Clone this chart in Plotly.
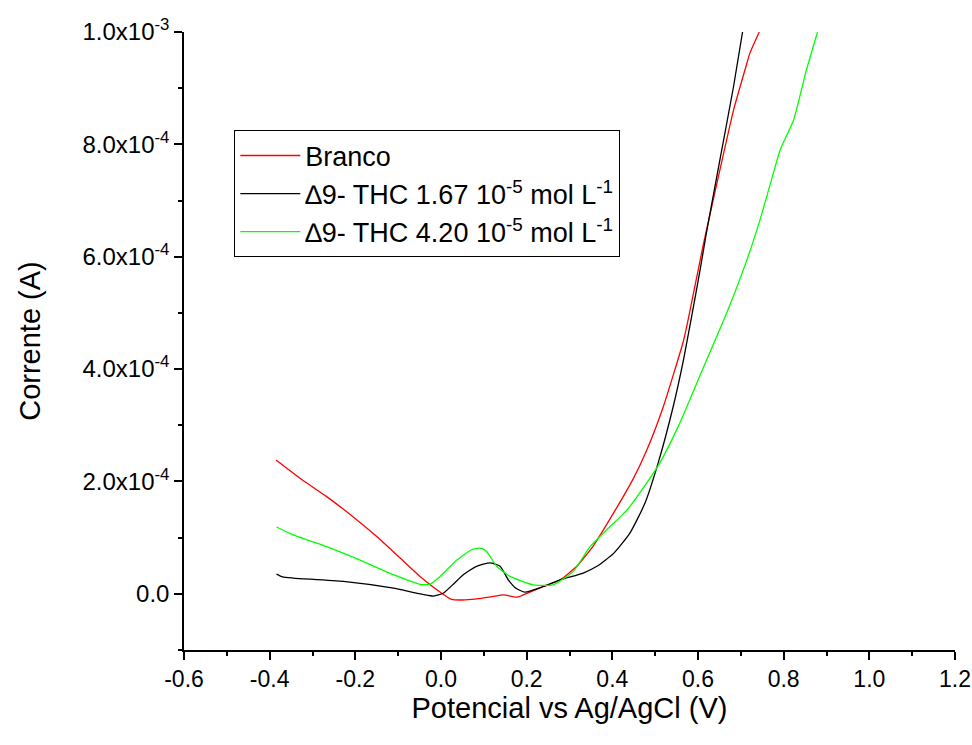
import plotly.graph_objects as go

# Potential (V) and current (in units of 1e-4 A)
branco_x = [-0.385, -0.33, -0.267, -0.21, -0.150, -0.10, -0.049, 0.0, 0.025, 0.05, 0.083,
            0.12, 0.146, 0.177, 0.21, 0.239, 0.278, 0.317, 0.356, 0.403, 0.449,
            0.480, 0.519, 0.566, 0.577, 0.612, 0.651, 0.683, 0.714, 0.721, 0.743]
branco_y = [2.38, 2.06, 1.73, 1.40, 1.02, 0.67, 0.31, 0.02, -0.10, -0.11, -0.09,
            -0.05, -0.02, -0.06, 0.04, 0.13, 0.25, 0.49, 0.86, 1.44, 2.05,
            2.55, 3.33, 4.50, 4.88, 6.20, 7.54, 8.61, 9.44, 9.62, 10.0]

thc1_x = [-0.384, -0.37, -0.345, -0.228, -0.111, -0.018, 0.005, 0.03, 0.052, 0.083,
          0.114, 0.138, 0.157, 0.175, 0.196, 0.239, 0.278, 0.332, 0.364, 0.403, 0.441,
          0.476, 0.507, 0.542, 0.566, 0.585, 0.605, 0.620, 0.651, 0.683, 0.704]
thc1_y = [0.35, 0.30, 0.28, 0.22, 0.10, -0.04, 0.01, 0.18, 0.34, 0.49,
          0.55, 0.49, 0.25, 0.10, 0.03, 0.13, 0.25, 0.37, 0.49, 0.72, 1.08,
          1.61, 2.33, 3.33, 4.16, 4.93, 5.77, 6.44, 7.72, 9.03, 10.0]

thc2_x = [-0.384, -0.345, -0.267, -0.189, -0.111, -0.049, -0.026, -0.002, 0.037, 0.07,
          0.083, 0.095, 0.107, 0.130, 0.161, 0.216, 0.262, 0.309, 0.348, 0.387, 0.434,
          0.480, 0.511, 0.554, 0.574, 0.620, 0.667, 0.714, 0.745, 0.788, 0.795, 0.823,
          0.853, 0.879]
thc2_y = [1.19, 1.05, 0.84, 0.60, 0.34, 0.17, 0.17, 0.31, 0.60, 0.78,
          0.81, 0.81, 0.75, 0.49, 0.31, 0.16, 0.16, 0.40, 0.84, 1.14, 1.49,
          1.97, 2.33, 2.98, 3.33, 4.16, 5.00, 5.94, 6.66, 7.81, 7.96, 8.43,
          9.32, 10.0]

names = ["Branco",
         "\u22069- THC 1.67 10<sup>-5</sup> mol L<sup>-1</sup>",
         "\u22069- THC 4.20 10<sup>-5</sup> mol L<sup>-1</sup>"]
colors = ["#FF0000", "#000000", "#00FF00"]

ytick_vals = [0.0, 2e-4, 4e-4, 6e-4, 8e-4, 1e-3]
ytick_text = ["0.0", "2.0x10<sup>-4</sup>", "4.0x10<sup>-4</sup>", "6.0x10<sup>-4</sup>",
              "8.0x10<sup>-4</sup>", "1.0x10<sup>-3</sup>"]
xtick_vals = [-0.6, -0.4, -0.2, 0.0, 0.2, 0.4, 0.6, 0.8, 1.0, 1.2]
xtick_text = ["-0.6", "-0.4", "-0.2", "0.0", "0.2", "0.4", "0.6", "0.8", "1.0", "1.2"]

fig = go.Figure()
for xs, ys, nm, c in [(branco_x, branco_y, names[0], colors[0]),
                      (thc1_x, thc1_y, names[1], colors[1]),
                      (thc2_x, thc2_y, names[2], colors[2])]:
    fig.add_trace(go.Scatter(x=xs, y=[v * 1e-4 for v in ys], mode="lines", name=nm,
                             line=dict(color=c, width=1.3, shape="spline", smoothing=0.5)))

font_family = "Liberation Sans, Arial, sans-serif"
fig.update_layout(
    width=972, height=745,
    margin=dict(l=184, r=17, t=32, b=95),
    paper_bgcolor="white", plot_bgcolor="white",
    font=dict(family=font_family, color="black", size=22),
    showlegend=True,
    legend=dict(x=0.065, y=0.841, xanchor="left", yanchor="top",
                bordercolor="black", borderwidth=1.2, bgcolor="white",
                font=dict(size=27, family=font_family), itemwidth=60,
                tracegroupgap=0),
    xaxis=dict(range=[-0.6, 1.2], tickvals=xtick_vals, ticktext=xtick_text,
               automargin=False,
               showgrid=False, zeroline=False, showline=True, linecolor="black",
               linewidth=1.5, ticks="outside", ticklen=8, tickwidth=1.5,
               tickcolor="black", tickfont=dict(size=23),
               minor=dict(ticks="outside", ticklen=4, tickwidth=1.5, tickcolor="black",
                          dtick=0.1, tick0=-0.6, showgrid=False),
               title=dict(text="Potencial vs Ag/AgCl (V)", font=dict(size=29), standoff=3)),
    yaxis=dict(range=[-1e-4, 1e-3], tickvals=ytick_vals, ticktext=ytick_text,
               automargin=False,
               showgrid=False, zeroline=False, showline=True, linecolor="black",
               linewidth=1.5, ticks="outside", ticklen=8, tickwidth=1.5,
               tickcolor="black", tickfont=dict(size=24),
               minor=dict(ticks="outside", ticklen=4, tickwidth=1.5, tickcolor="black",
                          dtick=1e-4, tick0=0, showgrid=False),
               title=dict(text="Corrente (A)", font=dict(size=29), standoff=33)),
)

fig.write_html("out.html")
